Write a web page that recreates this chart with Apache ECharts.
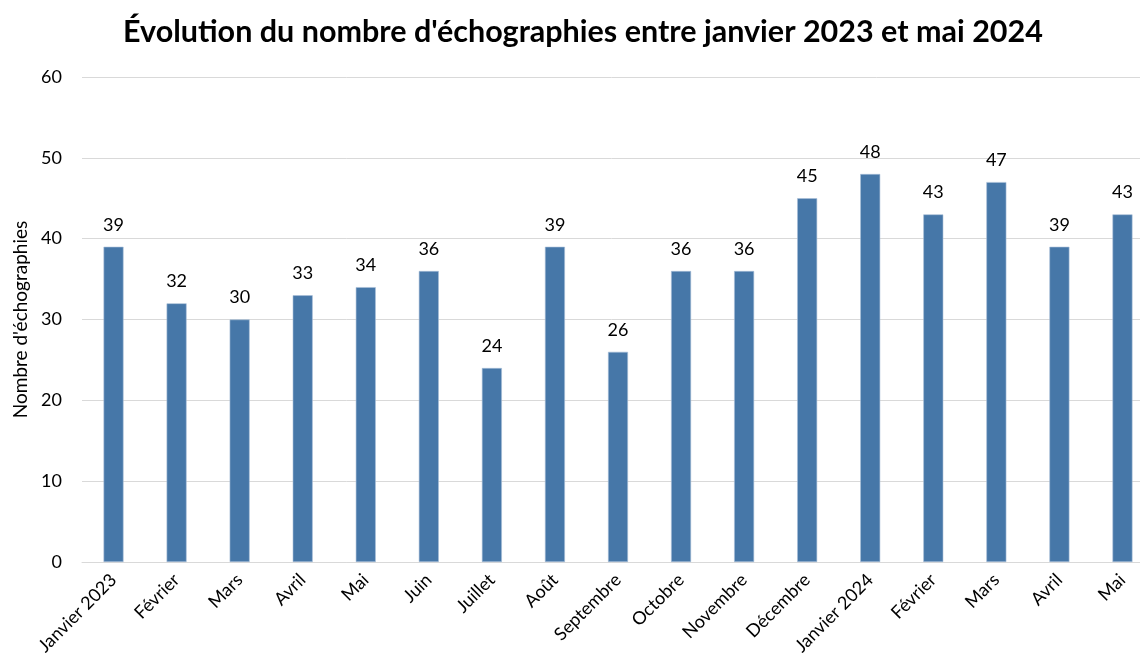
<!DOCTYPE html>
<html lang="fr">
	<head>
		<meta charset="UTF-8"/>
		<title>Échographies</title>
		<script src="https://cdn.jsdelivr.net/npm/echarts@6/dist/echarts.min.js"></script>
		<style>
			body { margin: 0; background: #fff; }
		</style>
	</head>
	<body>
		<div id="main" style="width: 1140px;height: 664px;"></div>
		<script type="text/javascript">
			var mois = ['Janvier 2023', 'Février', 'Mars', 'Avril', 'Mai', 'Juin', 'Juillet', 'Août',
				'Septembre', 'Octobre', 'Novembre', 'Décembre', 'Janvier 2024', 'Février', 'Mars', 'Avril', 'Mai'];
			var echographies = [39, 32, 30, 33, 34, 36, 24, 39, 26, 36, 36, 45, 48, 43, 47, 39, 43];
			var yTicks = [0, 10, 20, 30, 40, 50, 60];

			var police = 'Lato, "Open Sans", sans-serif';
			var myChart = echarts.init(document.getElementById('main'));
			var option = {
				backgroundColor: '#ffffff',
				animation: false,
				title: {
					text: "Évolution du nombre d'échographies entre janvier 2023 et mai 2024",
					left: 578,
					textAlign: 'center',
					top: 12,
					textStyle: {
						fontFamily: police,
						fontWeight: 'bold',
						fontSize: 30.5,
						color: '#000'
					}
				},
				// la zone de tracé dépasse à droite, comme dans l'original
				grid: {
					left: 82,
					width: 1072,
					top: 77,
					height: 485,
					outerBoundsMode: 'none'
				},
				xAxis: {
					type: 'category',
					data: mois,
					axisLine: { lineStyle: { color: '#d9d9d9', width: 1 } },
					axisTick: { show: false },
					axisLabel: {
						interval: 0,
						rotate: 45,
						fontFamily: police,
						fontSize: 18,
						color: '#000',
						margin: 15
					}
				},
				yAxis: {
					type: 'value',
					min: yTicks[0],
					max: yTicks[yTicks.length - 1],
					interval: 10,
					name: "Nombre d'échographies",
					nameLocation: 'middle',
					nameGap: 52,
					nameTextStyle: {
						fontFamily: police,
						fontSize: 19,
						color: '#000'
					},
					axisLine: { show: false },
					axisTick: { show: false },
					splitLine: { lineStyle: { color: '#d9d9d9', width: 1 } },
					axisLabel: {
						fontFamily: police,
						fontSize: 18,
						color: '#000',
						margin: 20
					}
				},
				series: [
					{
						type: 'bar',
						data: echographies,
						barWidth: 20,
						itemStyle: {
							color: '#4677a8',
							borderColor: '#a9c0d8',
							borderWidth: 0.6
						},
						label: {
							show: true,
							position: 'top',
							distance: 13,
							fontFamily: police,
							fontSize: 18,
							color: '#000'
						}
					}
				]
			};
			myChart.setOption(option);
		</script>
	</body>
</html>
